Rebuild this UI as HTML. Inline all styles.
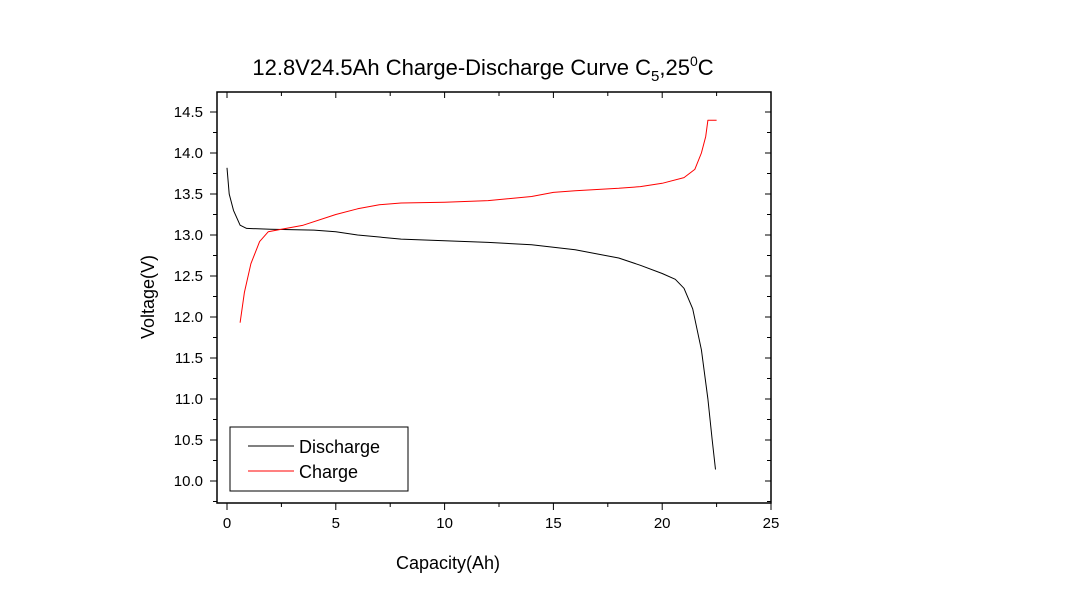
<!DOCTYPE html>
<html><head><meta charset="utf-8"><style>
body{margin:0;background:#fff;}
svg{display:block;font-family:"Liberation Sans",Arial,sans-serif;}
</style></head><body>
<svg id="chart" width="1071" height="602" viewBox="0 0 1071 602">
<text x="483" y="75" font-size="22" text-anchor="middle">12.8V24.5Ah Charge-Discharge Curve  C<tspan font-size="15" dy="6">5</tspan><tspan dy="-6">,25</tspan><tspan font-size="14" dy="-9">0</tspan><tspan dy="9">C</tspan></text>
<rect x="217" y="92" width="554" height="411" fill="none" stroke="#000" stroke-width="1.5"/>
<g id="axes"></g>
<g id="series"></g>
<text transform="translate(154,297) rotate(-90)" font-size="18" text-anchor="middle">Voltage(V)</text>
<text x="448" y="569" font-size="18" text-anchor="middle">Capacity(Ah)</text>
<g>
<rect x="230" y="427" width="178" height="64" fill="#fff" stroke="#000" stroke-width="1"/>
<line x1="248" y1="446" x2="294" y2="446" stroke="#000" stroke-width="1"/>
<text x="299" y="453" font-size="18">Discharge</text>
<line x1="248" y1="471" x2="294" y2="471" stroke="#f00" stroke-width="1"/>
<text x="299" y="478" font-size="18">Charge</text>
</g>
</svg>
<script>
const xTicks=[0,5,10,15,20,25];
const yTicks=[10.0,10.5,11.0,11.5,12.0,12.5,13.0,13.5,14.0,14.5];
const dischargeX=[0,0.1,0.3,0.6,0.9,2,4,5,6,8,10,12,14,16,18,19,20,20.6,21,21.4,21.8,22.1,22.3,22.45];
const dischargeY=[13.82,13.5,13.3,13.12,13.08,13.07,13.06,13.04,13.0,12.95,12.93,12.91,12.88,12.82,12.72,12.63,12.53,12.46,12.35,12.1,11.6,11.0,10.5,10.14];
const chargeX=[0.6,0.8,1.1,1.5,1.9,2.5,3.5,5,6,7,8,10,12,14,15,16,18,19,20,21,21.5,21.8,22,22.1,22.5];
const chargeY=[11.93,12.3,12.65,12.92,13.04,13.07,13.12,13.25,13.32,13.37,13.39,13.4,13.42,13.47,13.52,13.54,13.57,13.59,13.63,13.7,13.8,14.0,14.2,14.4,14.4];
const NS="http://www.w3.org/2000/svg";
function sx(v){return 227+(v/25)*544;}
function sy(v){return 481-(v-10)*82;}
const axes=document.getElementById('axes');
function mk(tag,attrs,parent){const e=document.createElementNS(NS,tag);for(const k in attrs)e.setAttribute(k,attrs[k]);parent.appendChild(e);return e;}
xTicks.forEach((t,i)=>{
  const g=mk('g',{},axes);
  
  
  mk('line',{x1:sx(t),x2:sx(t),y1:503,y2:510,stroke:'#000'},g);
  mk('line',{x1:sx(t),x2:sx(t),y1:92,y2:98,stroke:'#000'},g);
  const tx=mk('text',{x:sx(t),y:528,'font-size':15,'text-anchor':'middle'},g);tx.textContent=t;
  if(i<xTicks.length-1){const m=t+2.5;
    mk('line',{x1:sx(m),x2:sx(m),y1:503,y2:507,stroke:'#000'},g);
    mk('line',{x1:sx(m),x2:sx(m),y1:92,y2:96,stroke:'#000'},g);}
});
yTicks.forEach((t,i)=>{
  const g=mk('g',{},axes);
  
  
  mk('line',{x1:210,x2:217,y1:sy(t),y2:sy(t),stroke:'#000'},g);
  mk('line',{x1:771,x2:765,y1:sy(t),y2:sy(t),stroke:'#000'},g);
  const tx=mk('text',{x:203,y:sy(t)+5,'font-size':15,'text-anchor':'end'},g);tx.textContent=t.toFixed(1);
  [t-0.25,t+0.25].forEach(m=>{if(sy(m)>92&&sy(m)<503&&(m>t||i==0)){
    mk('line',{x1:213,x2:217,y1:sy(m),y2:sy(m),stroke:'#000'},g);
    mk('line',{x1:771,x2:767,y1:sy(m),y2:sy(m),stroke:'#000'},g);}});
});
const series=document.getElementById('series');
function draw(xs,ys,color,name){
  const d=xs.map((x,i)=>(i?'L':'M')+sx(x).toFixed(1)+','+sy(ys[i]).toFixed(1)).join(' ');
  const p=mk('path',{d:d,fill:'none',stroke:color,'stroke-width':1,'stroke-linejoin':'round'},series);
  
  
}
draw(dischargeX,dischargeY,'#000','discharge-line');
draw(chargeX,chargeY,'#f00','charge-line');
</script>
</body></html>
